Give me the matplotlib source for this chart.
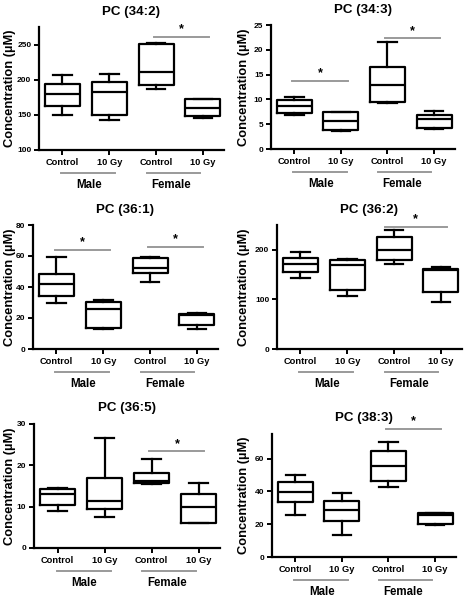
import matplotlib
matplotlib.use("Agg")
import matplotlib.pyplot as plt
import matplotlib.transforms as mtransforms

plt.rcParams['font.family'] = ['Liberation Sans', 'DejaVu Sans']
plt.rcParams['font.weight'] = 'bold'

# ---- data (min, Q1, median, Q3, max) per group: Male Control, Male 10 Gy, Female Control, Female 10 Gy
titles = ["PC (34:2)", "PC (34:3)", "PC (36:1)", "PC (36:2)", "PC (36:5)", "PC (38:3)"]
tick_labels = ["Control", "10 Gy", "Control", "10 Gy"]
group_labels = ["Male", "Female"]
ylabel = "Concentration (µM)"

pc34_2 = [[150.5, 162.7, 180.2, 194.3, 206.6],
          [142.5, 150.5, 183.0, 196.7, 208.0],
          [186.8, 193.0, 211.3, 251.0, 252.0],
          [146.2, 148.6, 160.0, 172.6, 172.6]]
pc34_3 = [[6.8, 7.3, 8.6, 9.85, 10.45],
          [3.55, 3.82, 5.7, 7.37, 7.37],
          [9.25, 9.45, 13.0, 16.55, 21.5],
          [4.09, 4.29, 5.96, 6.77, 7.64]]
pc36_1 = [[30.0, 34.1, 41.8, 48.3, 59.3],
          [13.2, 13.8, 25.7, 30.6, 31.5],
          [43.3, 49.2, 52.4, 58.4, 59.3],
          [13.2, 15.8, 22.0, 22.9, 23.3]]
pc36_2 = [[143.0, 155.0, 171.0, 183.0, 196.5],
          [107.0, 118.4, 170.0, 179.7, 182.0],
          [171.0, 179.7, 200.5, 224.8, 240.0],
          [94.5, 115.4, 159.0, 160.7, 166.0]]
pc36_5 = [[9.0, 10.5, 13.0, 14.25, 14.5],
          [7.4, 9.4, 11.4, 17.0, 26.6],
          [15.6, 15.7, 16.3, 18.1, 21.5],
          [6.1, 6.1, 10.0, 13.0, 15.8]]
pc38_3 = [[25.8, 33.8, 39.5, 45.5, 49.9],
          [13.7, 22.0, 28.8, 34.0, 39.1],
          [42.9, 46.3, 55.2, 64.6, 70.1],
          [19.5, 20.0, 25.7, 26.8, 27.0]]
datasets = [pc34_2, pc34_3, pc36_1, pc36_2, pc36_5, pc38_3]

yticks = [[100, 150, 200, 250], [0, 5, 10, 15, 20, 25], [0, 20, 40, 60, 80],
          [0, 100, 200], [0, 10, 20, 30], [0, 20, 40, 60]]
ylims = [(100, 275), (0, 25), (0, 80), (0, 250), (0, 30), (0, 75)]

# significance bars: (x0, x1, y)
sig = [[(2.95, 4.12, 261.0)],
       [(0.95, 2.15, 13.7), (2.95, 4.12, 22.3)],
       [(0.97, 2.15, 63.9), (2.95, 4.12, 65.8)],
       [(2.8, 4.12, 246.0)],
       [(2.95, 4.12, 23.4)],
       [(2.95, 4.12, 78.1)]]

# ---- layout in pixels (left, right, top, bottom)
W, H = 467, 601
boxes_px = [(39, 224, 27, 150), (271, 455, 25, 149),
            (33, 218, 225, 349), (277, 462, 225, 349),
            (34, 220, 424, 548), (272, 456, 434, 557)]
label_right_px = [16, 250, 16, 250, 16, 250]

fig = plt.figure(figsize=(W / 100, H / 100), dpi=100)
gray = '#9a9a9a'

for i, (l, r, t, b) in enumerate(boxes_px):
    ax = fig.add_axes([l / W, 1 - b / H, (r - l) / W, (b - t) / H])
    stats = []
    for s in datasets[i]:
        stats.append(dict(whislo=s[0], q1=s[1], med=s[2], q3=s[3], whishi=s[4], fliers=[]))
    lw = 1.6
    ax.bxp(stats, positions=[1, 2, 3, 4], widths=0.75, capwidths=0.4, showfliers=False,
           boxprops=dict(color='black', linewidth=lw),
           medianprops=dict(color='black', linewidth=lw),
           whiskerprops=dict(color='black', linewidth=lw),
           capprops=dict(color='black', linewidth=lw))
    ax.set_xlim(0.5, 4.45)
    ax.set_ylim(*ylims[i])
    ax.set_yticks(yticks[i])
    ax.set_yticklabels([str(v) for v in yticks[i]], fontsize=6, fontweight='bold')
    ax.set_xticks([1, 2, 3, 4])
    ax.set_xticklabels(tick_labels, fontsize=6.7, fontweight='bold')
    for sp in ['top', 'right']:
        ax.spines[sp].set_visible(False)
    for sp in ['left', 'bottom']:
        ax.spines[sp].set_linewidth(1.6)
    ax.tick_params(axis='both', width=1.4, length=3.5, pad=2)
    ax.set_title(titles[i], fontsize=9.6, fontweight='bold', pad=9)
    ax.set_ylabel(ylabel, fontsize=9.3, fontweight='bold')
    ax.yaxis.set_label_coords((label_right_px[i] - l) / (r - l), 0.5)

    trans = mtransforms.blended_transform_factory(ax.transData, ax.transAxes)
    hpx = b - t
    yline = -23 / hpx
    ylab = -35 / hpx
    ax.plot([0.98, 2.13], [yline, yline], color=gray, lw=1.4, transform=trans, clip_on=False)
    ax.plot([2.8, 3.94], [yline, yline], color=gray, lw=1.4, transform=trans, clip_on=False)
    ax.text(1.57, ylab, group_labels[0], transform=trans, ha='center', va='center',
            fontsize=8.3, fontweight='bold')
    ax.text(3.32, ylab, group_labels[1], transform=trans, ha='center', va='center',
            fontsize=8.3, fontweight='bold')

    for (x0, x1, y) in sig[i]:
        ax.plot([x0, x1], [y, y], color=gray, lw=1.4, clip_on=False)
        ax.annotate('*', xy=((x0 + x1) / 2, y), xytext=(0, 1), textcoords='offset points',
                    ha='center', va='bottom', fontsize=9, fontweight='bold', annotation_clip=False)

fig.savefig('out.png', dpi=100)
